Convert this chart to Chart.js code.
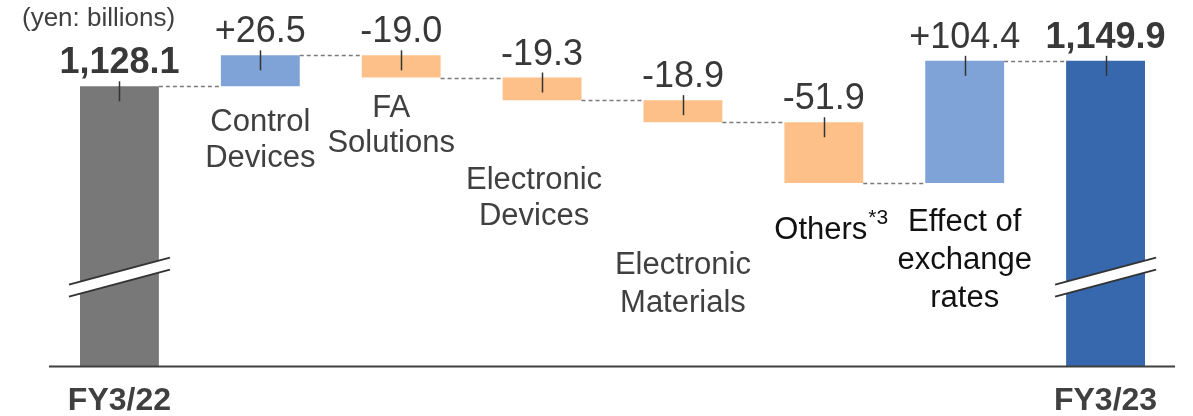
<!DOCTYPE html>
<html>
<head>
<meta charset="utf-8">
<script src="https://cdn.jsdelivr.net/npm/chart.js@4.4.1/dist/chart.umd.min.js"></script>
<style>
  html, body { margin: 0; padding: 0; background: #fff; }
  #wrap { width: 1193px; height: 416px; }
</style>
</head>
<body>
<div id="wrap"><canvas id="c" width="1193" height="416"></canvas></div>
<script>
// --- data ---
const categories = [
  ['FY3/22'],
  ['Control', 'Devices'],
  ['FA', 'Solutions'],
  ['Electronic', 'Devices'],
  ['Electronic', 'Materials'],
  ['Others'],
  ['Effect of', 'exchange', 'rates'],
  ['FY3/23']
];
const startTotal = 1128.1;
const endTotal = 1149.9;
const changes = [26.5, -19.0, -19.3, -18.9, -51.9, 104.4];
const notes = ['', '', '', '', '', '*3', '', ''];
const unitText = '(yen: billions)';

// broken axis: the two totals rise from the bottom of the scale
const yMin = 889;
const yMax = 1201.9;
const breakAt = 965;

// --- build the waterfall ---
const floating = [];
const kinds = [];
let run = startTotal;
floating.push([yMin, startTotal]); kinds.push('first');
changes.forEach(c => {
  floating.push([run, run + c]);
  kinds.push(c >= 0 ? 'up' : 'down');
  run += c;
});
floating.push([yMin, endTotal]); kinds.push('last');

const colorFor = { first: '#787878', up: '#7FA3D6', down: '#FDC088', last: '#3768AD' };

function valueText(i) {
  if (kinds[i] === 'first' || kinds[i] === 'last') {
    return floating[i][1].toLocaleString('en-US', { minimumFractionDigits: 1, maximumFractionDigits: 1 });
  }
  const c = changes[i - 1];
  return (c > 0 ? '+' : '') + c.toFixed(1);
}

// where the category names sit (first baseline, line height, x shift)
const labelPlace = [
  null,
  { dx: 0, y: 131, lh: 36, color: '#404040' },
  { dx: -10, y: 117, lh: 35, color: '#404040' },
  { dx: -8, y: 189, lh: 36, color: '#404040' },
  { dx: 0, y: 274, lh: 38, color: '#404040' },
  { dx: -3, y: 239, lh: 38, color: '#111' },
  { dx: 0, y: 231, lh: 38, color: '#111' },
  null
];

const FONT = '"Liberation Sans", Arial, sans-serif';

const waterfallDeco = {
  id: 'waterfallDeco',
  afterDatasetsDraw(chart) {
    const ctx = chart.ctx;
    const ys = chart.scales.y;
    const meta = chart.getDatasetMeta(0);
    const area = chart.chartArea;
    const bars = meta.data;

    ctx.save();

    // dashed connectors between bars
    ctx.strokeStyle = '#7a7a7a';
    ctx.lineWidth = 1.5;
    ctx.setLineDash([4, 3]);
    for (let i = 0; i < bars.length - 1; i++) {
      const level = floating[i][1];
      const y = Math.round(ys.getPixelForValue(level)) + 0.5;
      const x1 = bars[i].x + bars[i].width / 2;
      const x2 = bars[i + 1].x - bars[i + 1].width / 2;
      ctx.beginPath();
      ctx.moveTo(x1, y);
      ctx.lineTo(x2, y);
      ctx.stroke();
    }
    ctx.setLineDash([]);

    // axis break marks on the totals
    [0, bars.length - 1].forEach(i => {
      const cx = bars[i].x;
      const yb = ys.getPixelForValue(breakAt);
      const hw = 50.5, rise = 13.5, gap = 6;
      ctx.fillStyle = '#fff';
      ctx.beginPath();
      ctx.moveTo(cx - hw, yb - gap + rise);
      ctx.lineTo(cx + hw, yb - gap - rise);
      ctx.lineTo(cx + hw, yb + gap - rise);
      ctx.lineTo(cx - hw, yb + gap + rise);
      ctx.closePath();
      ctx.fill();
      ctx.strokeStyle = '#333';
      ctx.lineWidth = 2;
      [-gap, gap].forEach(o => {
        ctx.beginPath();
        ctx.moveTo(cx - hw, yb + o + rise);
        ctx.lineTo(cx + hw, yb + o - rise);
        ctx.stroke();
      });
    });

    // baseline
    ctx.strokeStyle = '#404040';
    ctx.lineWidth = 2;
    ctx.beginPath();
    ctx.moveTo(area.left, area.bottom + 0.5);
    ctx.lineTo(area.right - 1, area.bottom + 0.5);
    ctx.stroke();

    // small ticks and value labels
    bars.forEach((b, i) => {
      const top = Math.min(ys.getPixelForValue(floating[i][0]), ys.getPixelForValue(floating[i][1]));
      ctx.strokeStyle = '#333';
      ctx.lineWidth = 1.5;
      ctx.beginPath();
      ctx.moveTo(Math.round(b.x) + 0.5, top - 5);
      ctx.lineTo(Math.round(b.x) + 0.5, top + 15);
      ctx.stroke();

      const bold = kinds[i] === 'first' || kinds[i] === 'last';
      ctx.font = (bold ? 'bold ' : '') + '36px ' + FONT;
      ctx.fillStyle = '#383838';
      ctx.textAlign = 'center';
      ctx.textBaseline = 'alphabetic';
      ctx.fillText(valueText(i), b.x, top - 13);
    });

    // category names
    bars.forEach((b, i) => {
      const p = labelPlace[i];
      if (!p) return;
      ctx.font = '31px ' + FONT;
      ctx.fillStyle = p.color;
      ctx.textAlign = 'center';
      const lines = categories[i];
      lines.forEach((ln, k) => {
        ctx.fillText(ln, b.x + p.dx, p.y + k * p.lh);
      });
      if (notes[i]) {
        const w = ctx.measureText(lines[0]).width;
        ctx.font = '21px ' + FONT;
        ctx.textAlign = 'left';
        ctx.fillText(notes[i], b.x + p.dx + w / 2 + 1, p.y - 15);
      }
    });

    // period labels under the axis
    [0, bars.length - 1].forEach(i => {
      ctx.font = 'bold 32px ' + FONT;
      ctx.fillStyle = '#404040';
      ctx.textAlign = 'center';
      ctx.fillText(categories[i][0], bars[i].x, 410);
    });

    // unit
    ctx.font = '26px ' + FONT;
    ctx.fillStyle = '#404040';
    ctx.textAlign = 'left';
    ctx.fillText(unitText, 22, 26);

    ctx.restore();
  }
};

new Chart(document.getElementById('c').getContext('2d'), {
  type: 'bar',
  data: {
    labels: categories,
    datasets: [{
      data: floating,
      backgroundColor: kinds.map(k => colorFor[k]),
      borderWidth: 0,
      borderSkipped: false,
      categoryPercentage: 1,
      barPercentage: 0.56
    }]
  },
  options: {
    responsive: false,
    devicePixelRatio: 1,
    animation: false,
    layout: { padding: { left: 49, right: 17, top: 0, bottom: 50 } },
    plugins: {
      legend: { display: false },
      tooltip: { enabled: false }
    },
    scales: {
      x: { display: false },
      y: { display: false, min: yMin, max: yMax }
    }
  },
  plugins: [waterfallDeco]
});
</script>
</body>
</html>
